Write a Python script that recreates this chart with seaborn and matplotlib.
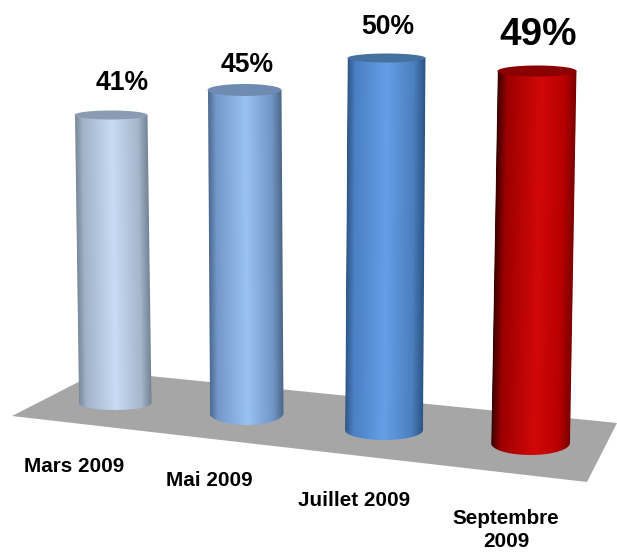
import numpy as np
import matplotlib
matplotlib.use("Agg")
import matplotlib.pyplot as plt
import seaborn as sns
from matplotlib.colors import LinearSegmentedColormap
from matplotlib.patches import Polygon
from matplotlib.path import Path
from matplotlib.transforms import Affine2D

# --- data ---
months = ["Mars 2009", "Mai 2009", "Juillet 2009", "Septembre\n2009"]
values = [41, 45, 50, 49]

# --- style / layout (pixels of the 617x552 picture) ---
W, H = 617, 552
top_left = [74.5, 207.5, 347.5, 497.5]
bottom_left = [78.5, 209.5, 345.0, 491.0]
bar_width = [73, 74, 78, 79]
top_y = [115, 90, 58, 71]
bottom_y = [403, 413, 430, 443]
top_ry = [4.5, 6, 4.5, 5.5]
bottom_ry = [7, 12, 10, 12]
top_colors = ["#8a9bb2", "#6f8bb2", "#45719f", "#8b0000"]
stops = [
    [(0, "#7a899c"), (0.1, "#a2b3c8"), (0.5, "#c8dcf5"), (0.85, "#a6b6cb"), (1, "#6e7d8f")],
    [(0, "#4d6a90"), (0.1, "#7397c8"), (0.5, "#9ac2f3"), (0.85, "#7196c6"), (1, "#47627f")],
    [(0, "#2f5686"), (0.1, "#4a80c4"), (0.5, "#659fe6"), (0.85, "#4b80bf"), (1, "#2b5385")],
    [(0, "#3a0000"), (0.12, "#9c0000"), (0.55, "#d20808"), (0.85, "#b80000"), (1, "#7a0000")],
]
floor = [(12, 416), (100, 371), (617, 423), (587, 482)]
value_pos = [(122, 83), (247, 65), (388, 27), (538, 35)]
value_size = [19.1, 19.1, 19.1, 27.8]
label_pos = [(74, 467), (209, 481), (354, 500), (506, 530)]

FONT = "Liberation Sans"
sns.set_theme(style="white")
plt.rcParams["font.family"] = [FONT, "DejaVu Sans"]

fig = plt.figure(figsize=(W / 100, H / 100), dpi=100, facecolor="white")
page = fig.add_axes([0, 0, 1, 1])
page.set_xlim(0, W)
page.set_ylim(H, 0)
page.axis("off")
page.add_patch(Polygon(floor, closed=True, facecolor="#a6a6a6", edgecolor="none", zorder=1))

ax = fig.add_axes([0, 0, 1, 1], facecolor="none")
sns.barplot(x=months, y=values, ax=ax, width=1.0, color="#808080", linewidth=0, saturation=1)
ax.set_autoscale_on(False)
xlim, ylim = ax.get_xlim(), ax.get_ylim()

t = np.linspace(0, np.pi, 60)
for i, (bar, v) in enumerate(zip(ax.patches, values)):
    w = bar_width[i]
    span = bottom_y[i] - top_y[i]
    # unit bar coordinates (category position, value) -> picture pixels
    m = np.array([
        [w, (top_left[i] - bottom_left[i]) / v, bottom_left[i] + w * (0.5 - i)],
        [0, -span / v, bottom_y[i]],
        [0, 0, 1],
    ])
    tr = Affine2D(m) + page.transData
    bar.set_transform(tr)
    bar.set_visible(False)

    ry_b = bottom_ry[i] * v / span
    ry_t = top_ry[i] * v / span
    # body outline: straight sides, rounded foot, rounded head
    bx = i + 0.5 * np.cos(t)
    verts = list(zip(bx, -ry_b * np.sin(t)))[::-1] + list(zip(bx, v + 0 * t))
    verts.append(verts[0])
    clip = Path(verts, closed=True)

    cmap = LinearSegmentedColormap.from_list(f"c{i}", stops[i])
    im = ax.imshow(np.linspace(0, 1, 128)[None, :], cmap=cmap, aspect="auto",
                   extent=(i - 0.5, i + 0.5, -ry_b, v), transform=tr, zorder=3,
                   interpolation="bilinear")
    im.set_clip_path(clip, transform=tr)

    cx = i + 0.5 * np.cos(2 * t)
    cy = v + ry_t * np.sin(2 * t)
    ax.add_patch(Polygon(np.column_stack([cx, cy]), closed=True, transform=tr,
                         facecolor=top_colors[i], edgecolor="none", zorder=4))

ax.set_xlim(xlim)
ax.set_ylim(ylim)
ax.axis("off")

for v, (x, y), s in zip(values, value_pos, value_size):
    page.text(x, y, f"{v}%", ha="center", va="center", fontsize=s, fontweight="bold",
              color="black", family=FONT)
for lab, (x, y) in zip(months, label_pos):
    fig.text(x / W, 1 - y / H, lab, ha="center", va="center", fontsize=14.9,
             fontweight="bold", color="black", family=FONT, linespacing=1.25)

fig.savefig("out.png", dpi=100, facecolor="white")
